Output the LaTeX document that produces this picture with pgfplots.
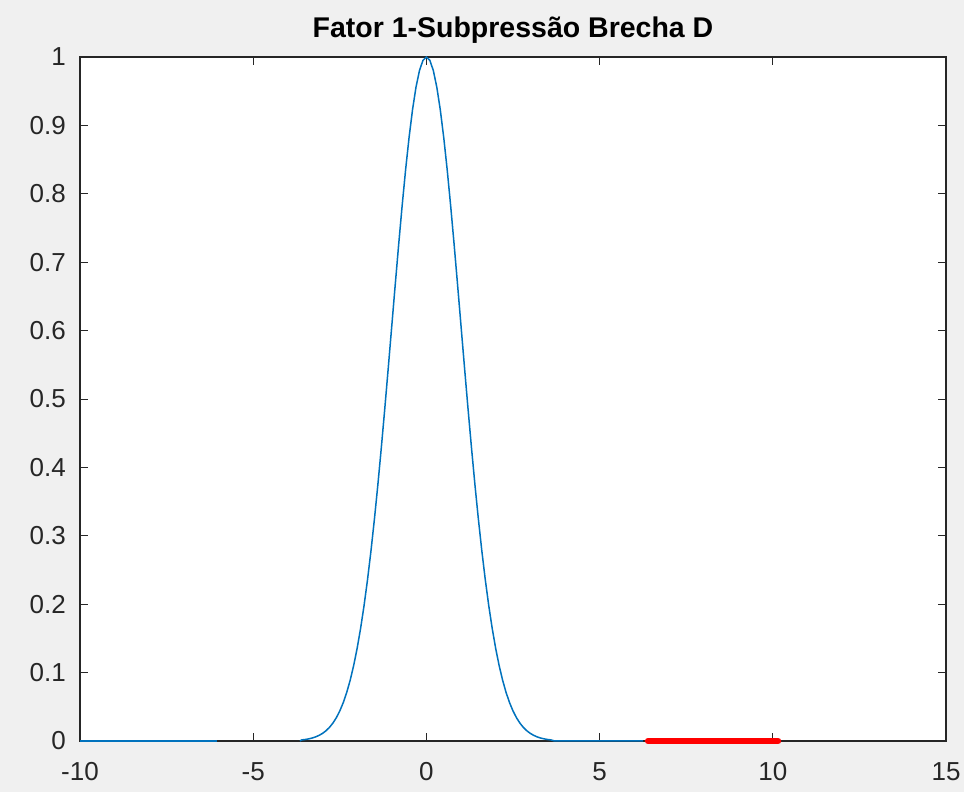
\documentclass[border=0pt]{standalone}
\usepackage{pgfplots}
\pgfplotsset{compat=1.18}
\usepackage{fontspec}
\setmainfont{Liberation Sans}
\definecolor{figbg}{HTML}{F0F0F0}
\definecolor{mblue}{rgb}{0,0.447,0.741}
\definecolor{axgray}{HTML}{262626}
\begin{document}
\begin{tikzpicture}
\fill[figbg] (-80pt,-51pt) rectangle (884pt,741pt);
\useasboundingbox (-80pt,-51pt) rectangle (884pt,741pt);
\begin{axis}[
  at={(0,0)}, anchor=south west,
  width=866pt, height=684pt, scale only axis,
  xmin=-10, xmax=15, ymin=0, ymax=1,
  axis background/.style={fill=white},
  xtick={-10,-5,0,5,10,15},
  ytick={0,0.1,0.2,0.3,0.4,0.5,0.6,0.7,0.8,0.9,1},
  yticklabels={0,0.1,0.2,0.3,0.4,0.5,0.6,0.7,0.8,0.9,1},
  tick align=inside,
  major tick length=8pt,
  tick style={color=axgray, line width=0.9pt},
  axis line style={color=axgray, line width=1.1pt},
  /pgf/number format/assume math mode=true,
  ticklabel style={font=\fontsize{26}{30}\selectfont, text=axgray},
  xticklabel style={anchor=base, inner sep=0pt, yshift=-40pt},
  yticklabel style={anchor=east, inner sep=0pt, xshift=-14pt},
  title={Fator 1-Subpressão Brecha D},
  title style={font=\bfseries\fontsize{28.5}{33}\selectfont, at={(0.5,1)}, anchor=base, yshift=13pt, inner sep=0pt},
  clip=false,
]
\addplot[mblue, line width=1.5pt] coordinates {(-10,0) (-6.05,0)};
\addplot[mblue, line width=1.5pt] coordinates {
(-3.65,0) (-3.6,0.00153) (-3.5,0.00219) (-3.4,0.00309) (-3.3,0.00432) (-3.2,0.00598) (-3.1,0.00819)
(-3.0,0.01111) (-2.9,0.01492) (-2.8,0.01984) (-2.7,0.02612) (-2.6,0.03405) (-2.5,0.04394)
(-2.4,0.05613) (-2.3,0.07100) (-2.2,0.08892) (-2.1,0.11025) (-2.0,0.13534) (-1.9,0.16448)
(-1.8,0.19790) (-1.7,0.23575) (-1.6,0.27804) (-1.5,0.32465) (-1.4,0.37531) (-1.3,0.42956)
(-1.2,0.48675) (-1.1,0.54607) (-1.0,0.60653) (-0.9,0.66698) (-0.8,0.72615) (-0.7,0.78270)
(-0.6,0.83527) (-0.5,0.88250) (-0.4,0.92312) (-0.3,0.95600) (-0.2,0.98020) (-0.1,0.99501)
(0,1)
(0.1,0.99501) (0.2,0.98020) (0.3,0.95600) (0.4,0.92312) (0.5,0.88250) (0.6,0.83527)
(0.7,0.78270) (0.8,0.72615) (0.9,0.66698) (1.0,0.60653) (1.1,0.54607) (1.2,0.48675)
(1.3,0.42956) (1.4,0.37531) (1.5,0.32465) (1.6,0.27804) (1.7,0.23575) (1.8,0.19790)
(1.9,0.16448) (2.0,0.13534) (2.1,0.11025) (2.2,0.08892) (2.3,0.07100) (2.4,0.05613)
(2.5,0.04394) (2.6,0.03405) (2.7,0.02612) (2.8,0.01984) (2.9,0.01492) (3.0,0.01111)
(3.1,0.00819) (3.2,0.00598) (3.3,0.00432) (3.4,0.00309) (3.5,0.00219) (3.6,0.00153)
(3.7,0) (6.25,0)};
\addplot[red, line width=6.5pt, line cap=round] coordinates {(6.4,0) (10.15,0)};
\end{axis}
\end{tikzpicture}
\end{document}
